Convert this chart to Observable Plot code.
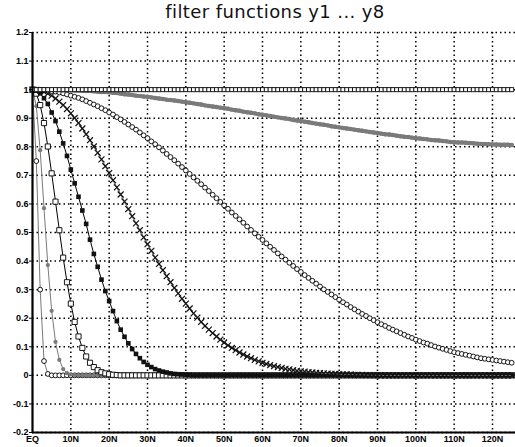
<!DOCTYPE html>
<html>
<head>
<meta charset="utf-8">
<script src="https://cdn.jsdelivr.net/npm/d3@7"></script>
<script src="https://cdn.jsdelivr.net/npm/@observablehq/plot@0.6"></script>
<style>
  html, body { margin: 0; padding: 0; background: #fff; }
  #title { width: 515px; height: 24px; position: relative; font-family: "DejaVu Sans", sans-serif; font-size: 18px; color: #111; }
  #title span { position: absolute; left: 275px; top: 1px; transform: translateX(-50%); white-space: nowrap; letter-spacing: 0.4px; }
  svg text { font-family: "Liberation Sans Narrow", "Liberation Sans", Arial, sans-serif; font-weight: bold; }
</style>
</head>
<body>
<div id="title"><span>filter functions y1 ... y8</span></div>
<div id="chart"></div>
<script>
// x tick positions (degrees north) and labels
const xTicks = [0, 10, 20, 30, 40, 50, 60, 70, 80, 90, 100, 110, 120];
const xTickLabels = ["EQ", "10N", "20N", "30N", "40N", "50N", "60N", "70N", "80N", "90N", "100N", "110N", "120N"];
const yTicks = [-0.2, -0.1, 0, 0.1, 0.2, 0.3, 0.4, 0.5, 0.6, 0.7, 0.8, 0.9, 1, 1.1, 1.2];
const yTickLabels = ["-0.2", "-0.1", "0", "0.1", "0.2", "0.3", "0.4", "0.5", "0.6", "0.7", "0.8", "0.9", "1", "1.1", "1.2"];

// values at latitudes 0N, 1N, 2N, ... 125N (array index = latitude)
const y1 = [1, 0.75, 0.30, 0.05, 0.005,
  0,0,0,0,0,0,0,0,0,0, 0,0,0,0,0,0,0,0,0,0, 0,0,0,0,0,0,0,0,0,0, 0,0,0,0,0,0,0,0,0,0,
  0,0,0,0,0,0,0,0,0,0, 0,0,0,0,0,0,0,0,0,0, 0,0,0,0,0,0,0,0,0,0, 0,0,0,0,0,0,0,0,0,0,
  0,0,0,0,0,0,0,0,0,0, 0,0,0,0,0,0,0,0,0,0, 0,0,0,0,0,0,0,0,0,0, 0,0,0,0,0,0,0,0,0,0,
  0];
const y2 = [1, 0.942, 0.788, 0.585, 0.386, 0.226, 0.117, 0.054, 0.022, 0.008, 0.003, 0.001,
  0,0,0,0,0,0,0,0,0,0, 0,0,0,0,0,0,0,0,0,0, 0,0,0,0,0,0,0,0,0,0, 0,0,0,0,0,0,0,0,0,0,
  0,0,0,0,0,0,0,0,0,0, 0,0,0,0,0,0,0,0,0,0, 0,0,0,0,0,0,0,0,0,0, 0,0,0,0,0,0,0,0,0,0,
  0,0,0,0,0,0,0,0,0,0, 0,0,0,0,0,0,0,0,0,0, 0,0,0,0,0,0,0,0,0,0,
  0,0,0,0];
const y3 = [1, 0.986, 0.946, 0.883, 0.801, 0.707, 0.608, 0.508, 0.412, 0.326,
  0.251, 0.187, 0.136, 0.096, 0.066, 0.044, 0.029, 0.018, 0.011, 0.007,
  0.004, 0.002, 0.001,
  0,0,0,0,0,0,0,0,0,0, 0,0,0,0,0,0,0,0,0,0, 0,0,0,0,0,0,0,0,0,0, 0,0,0,0,0,0,0,0,0,0,
  0,0,0,0,0,0,0,0,0,0, 0,0,0,0,0,0,0,0,0,0, 0,0,0,0,0,0,0,0,0,0, 0,0,0,0,0,0,0,0,0,0,
  0,0,0,0,0,0,0,0,0,0, 0,0,0,0,0,0,0,0,0,0,
  0,0,0];
const y4 = [1, 0.997, 0.987, 0.970, 0.950, 0.920, 0.890, 0.853, 0.812, 0.768,
  0.720, 0.672, 0.625, 0.577, 0.530, 0.475, 0.425, 0.380, 0.335, 0.295,
  0.260, 0.225, 0.190, 0.160, 0.135, 0.112, 0.092, 0.075, 0.060, 0.047,
  0.037, 0.029, 0.022, 0.017, 0.013, 0.010, 0.007, 0.005, 0.004, 0.003,
  0.002, 0.001,
  0,0,0,0,0,0,0,0,0,0, 0,0,0,0,0,0,0,0,0,0, 0,0,0,0,0,0,0,0,0,0, 0,0,0,0,0,0,0,0,0,0,
  0,0,0,0,0,0,0,0,0,0, 0,0,0,0,0,0,0,0,0,0, 0,0,0,0,0,0,0,0,0,0, 0,0,0,0,0,0,0,0,0,0,
  0,0,0,0];
const y5 = [1, 0.999, 0.997, 0.992, 0.986, 0.979, 0.969, 0.958, 0.946, 0.932,
  0.917, 0.901, 0.883, 0.864, 0.844, 0.823, 0.801, 0.779, 0.756, 0.732,
  0.708, 0.683, 0.658, 0.633, 0.608, 0.582, 0.557, 0.532, 0.508, 0.483,
  0.459, 0.436, 0.412, 0.390, 0.368, 0.347, 0.326, 0.306, 0.287, 0.268,
  0.251, 0.234, 0.217, 0.202, 0.187, 0.173, 0.160, 0.148, 0.136, 0.125,
  0.115, 0.105, 0.096, 0.088, 0.080, 0.073, 0.066, 0.060, 0.054, 0.049,
  0.044, 0.040, 0.036, 0.032, 0.029, 0.026, 0.023, 0.021, 0.018, 0.016,
  0.014, 0.013, 0.011, 0.010, 0.009, 0.008, 0.007, 0.006, 0.005, 0.005,
  0.004, 0.003, 0.003, 0.003, 0.002, 0.002, 0.002, 0.001, 0.001, 0.001,
  0.001,
  0,0,0,0,0,0,0,0,0,0, 0,0,0,0,0,0,0,0,0,0, 0,0,0,0,0,0,0,0,0,0,
  0,0,0,0,0];
const y6 = [1, 1.000, 0.999, 0.998, 0.997, 0.995, 0.993, 0.990, 0.987, 0.983,
  0.979, 0.975, 0.971, 0.966, 0.960, 0.954, 0.948, 0.942, 0.935, 0.928,
  0.920, 0.913, 0.904, 0.896, 0.887, 0.878, 0.869, 0.860, 0.850, 0.840,
  0.830, 0.819, 0.809, 0.798, 0.787, 0.775, 0.764, 0.753, 0.741, 0.729,
  0.717, 0.705, 0.693, 0.681, 0.669, 0.657, 0.645, 0.632, 0.620, 0.607,
  0.595, 0.583, 0.570, 0.558, 0.546, 0.534, 0.521, 0.509, 0.497, 0.485,
  0.474, 0.462, 0.450, 0.439, 0.427, 0.416, 0.405, 0.394, 0.383, 0.372,
  0.362, 0.351, 0.341, 0.331, 0.321, 0.311, 0.301, 0.292, 0.283, 0.274,
  0.265, 0.256, 0.248, 0.239, 0.231, 0.223, 0.215, 0.208, 0.200, 0.193,
  0.186, 0.179, 0.173, 0.166, 0.160, 0.154, 0.148, 0.142, 0.136, 0.131,
  0.125, 0.120, 0.115, 0.111, 0.106, 0.101, 0.097, 0.093, 0.089, 0.085,
  0.081, 0.078, 0.075, 0.072, 0.069, 0.066, 0.063, 0.060, 0.058, 0.056,
  0.054, 0.052, 0.050, 0.048, 0.046, 0.044];
const y7 = [1.000, 1.000, 1.000, 1.000, 0.999, 0.999, 0.999, 0.999, 0.998, 0.998,
  0.998, 0.997, 0.997, 0.996, 0.995, 0.995, 0.994, 0.993, 0.992, 0.992,
  0.991, 0.989, 0.988, 0.986, 0.984, 0.983, 0.981, 0.979, 0.978, 0.976,
  0.975, 0.973, 0.971, 0.969, 0.967, 0.965, 0.964, 0.962, 0.960, 0.958,
  0.956, 0.954, 0.952, 0.950, 0.948, 0.945, 0.943, 0.941, 0.939, 0.937,
  0.935, 0.933, 0.930, 0.928, 0.926, 0.923, 0.921, 0.919, 0.917, 0.914,
  0.912, 0.910, 0.908, 0.905, 0.903, 0.901, 0.899, 0.897, 0.894, 0.892,
  0.890, 0.888, 0.886, 0.883, 0.881, 0.879, 0.877, 0.875, 0.872, 0.870,
  0.868, 0.866, 0.864, 0.862, 0.860, 0.858, 0.856, 0.854, 0.852, 0.850,
  0.848, 0.846, 0.844, 0.843, 0.841, 0.839, 0.837, 0.835, 0.834, 0.832,
  0.830, 0.829, 0.827, 0.826, 0.824, 0.823, 0.822, 0.820, 0.819, 0.817,
  0.816, 0.815, 0.815, 0.814, 0.813, 0.812, 0.811, 0.810, 0.810, 0.809,
  0.808, 0.808, 0.807, 0.807, 0.807, 0.806];
const y8 = [1,1,1,1,1,1,1,1,1,1, 1,1,1,1,1,1,1,1,1,1, 1,1,1,1,1,1,1,1,1,1, 1,1,1,1,1,1,1,1,1,1,
  1,1,1,1,1,1,1,1,1,1, 1,1,1,1,1,1,1,1,1,1, 1,1,1,1,1,1,1,1,1,1, 1,1,1,1,1,1,1,1,1,1,
  1,1,1,1,1,1,1,1,1,1, 1,1,1,1,1,1,1,1,1,1, 1,1,1,1,1,1,1,1,1,1, 1,1,1,1,1,1,1,1,1,1,
  1,1,1,1,1,1];

const GRAY = "#7a7a7a";
const series = [
  {vals: y1, line: GRAY, lw: 1, symbol: "circle", r: 2.4, fill: "white", stroke: "black", sw: 0.9},
  {vals: y2, line: GRAY, lw: 1, symbol: "circle", r: 2.1, fill: GRAY, stroke: "none", sw: 0},
  {vals: y3, line: "black", lw: 1, symbol: "square", r: 2.9, fill: "white", stroke: "black", sw: 0.9},
  {vals: y4, line: "black", lw: 1, symbol: "square", r: 2.6, fill: "#111", stroke: "none", sw: 0},
  {vals: y5, line: GRAY, lw: 1.3, symbol: "times", r: 2.8, fill: "none", stroke: "#111", sw: 1.2},
  {vals: y6, line: GRAY, lw: 1, symbol: "circle", r: 2.4, fill: "white", stroke: "black", sw: 0.9},
  {vals: y7, line: GRAY, lw: 4, symbol: "circle", r: 2.2, fill: GRAY, stroke: "none", sw: 0},
  {vals: y8, line: "black", lw: 1, symbol: "square", r: 2.3, fill: "white", stroke: "black", sw: 0.9}
];

const marks = [
  Plot.ruleY(yTicks, {stroke: "black", strokeWidth: 1.5, strokeDasharray: "1.5,3"}),
  Plot.ruleX(xTicks.filter(d => d > 0), {stroke: "black", strokeWidth: 1.5, strokeDasharray: "1.5,3"})
];
for (const s of series) {
  const data = s.vals.map((v, i) => ({lat: i, v}));
  marks.push(Plot.line(data, {x: "lat", y: "v", stroke: s.line, strokeWidth: s.lw}));
  marks.push(Plot.dot(data, {x: "lat", y: "v", symbol: () => s.symbol, r: s.r,
    fill: s.fill, stroke: s.stroke, strokeWidth: s.sw}));
}
marks.push(Plot.ruleX([0], {stroke: "black", strokeWidth: 2.2}));
marks.push(Plot.ruleY([-0.2], {stroke: "black", strokeWidth: 2.2}));
marks.push(Plot.axisX({ticks: xTicks, tickFormat: d => xTickLabels[xTicks.indexOf(d)], tickSize: 0, tickPadding: 3, fontSize: 9, label: null}));
marks.push(Plot.axisY({ticks: yTicks, tickFormat: (d, i) => yTickLabels[i], tickSize: 3, tickPadding: 1, fontSize: 9, label: null}));

const chart = Plot.plot({
  width: 515,
  height: 423,
  marginLeft: 32,
  marginRight: 0,
  marginTop: 8,
  marginBottom: 15,
  style: {background: "white", color: "black", overflow: "visible"},
  x: {domain: [0, 126], label: null},
  y: {domain: [-0.2, 1.2], label: null},
  symbol: {type: "identity"},
  marks
});
document.getElementById("chart").appendChild(chart);
</script>
</body>
</html>
